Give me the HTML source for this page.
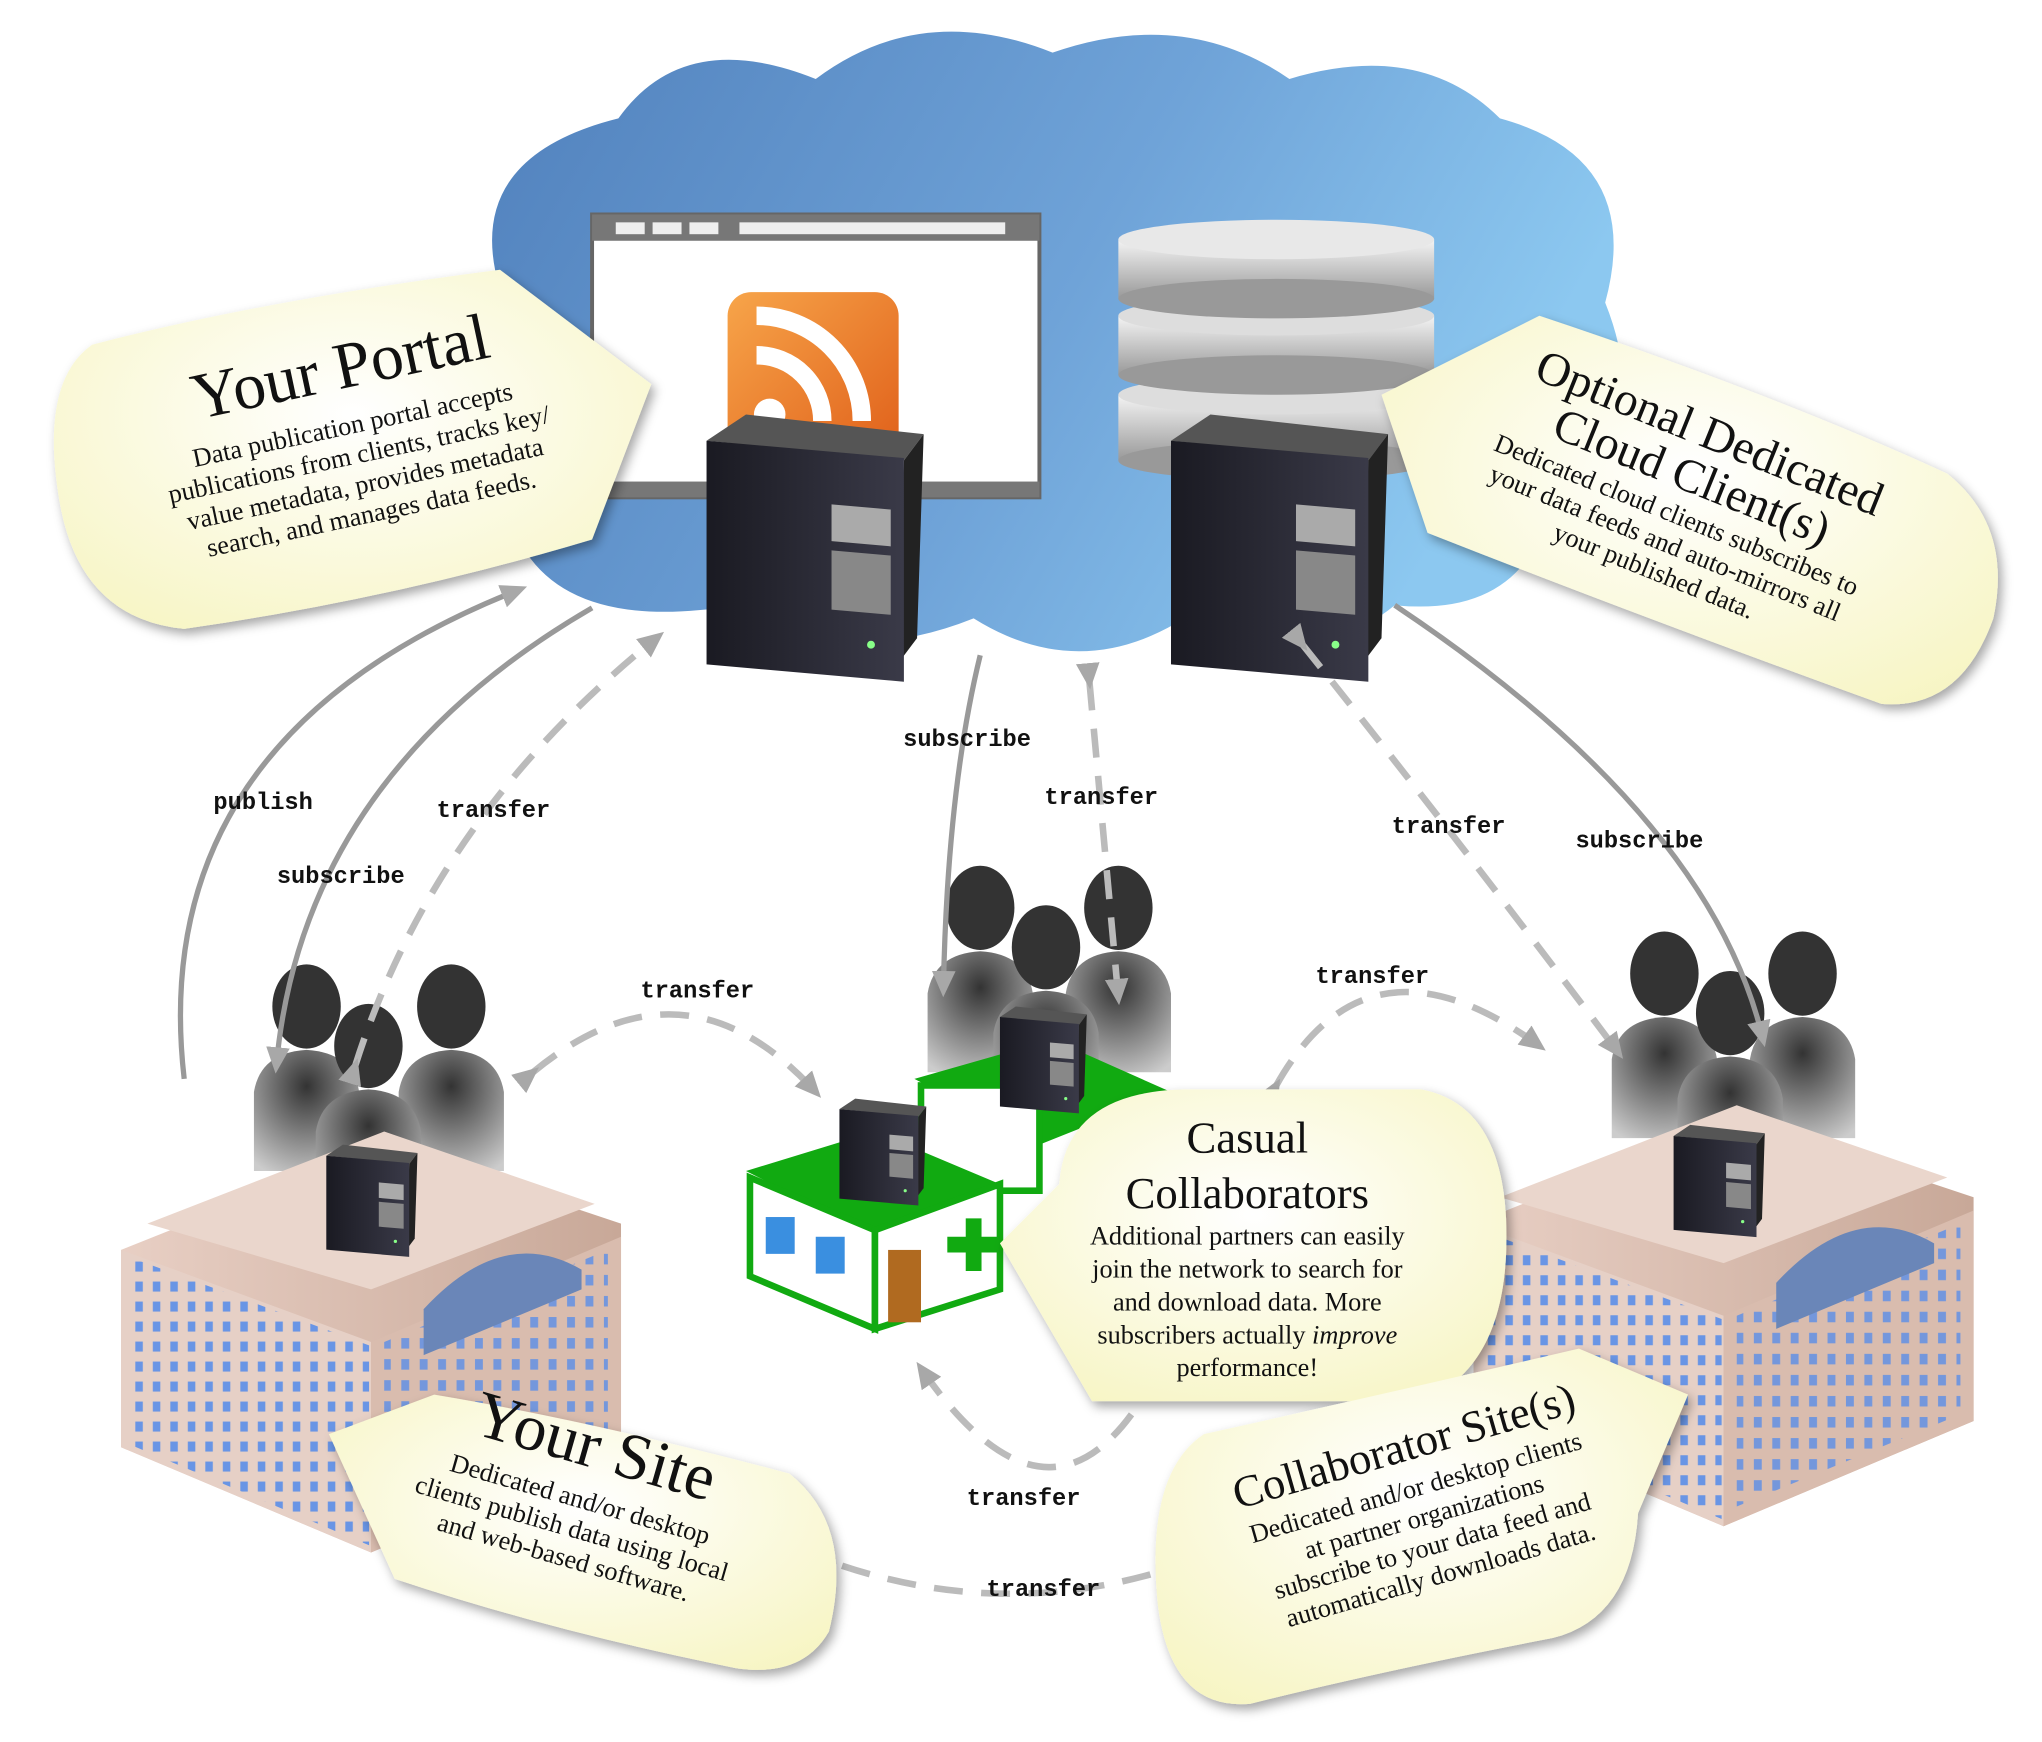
<!DOCTYPE html>
<html><head><meta charset="utf-8"><style>
html,body{margin:0;padding:0;background:#fff;}
svg{display:block;}
.lbl{font-family:"Liberation Mono",monospace;font-weight:bold;font-size:18px;fill:#111;}
.ser{font-family:"Liberation Serif",serif;fill:#111;}
</style></head><body>
<svg width="2042" height="1742" viewBox="0 0 1552 1324" preserveAspectRatio="none" xmlns="http://www.w3.org/2000/svg">
<defs>
<linearGradient id="cloud" x1="0" y1="0" x2="1" y2="0.3">
<stop offset="0" stop-color="#4f7fbb"/><stop offset="0.6" stop-color="#6fa3d8"/><stop offset="1" stop-color="#8cc8f0"/></linearGradient>
<radialGradient id="call" cx="0.5" cy="0.4" r="0.7"><stop offset="0" stop-color="#ffffff"/><stop offset="1" stop-color="#f7f5c4"/></radialGradient>
<linearGradient id="srv" x1="0" y1="0" x2="1" y2="0"><stop offset="0" stop-color="#1a1a22"/><stop offset="1" stop-color="#3a3a48"/></linearGradient>
<linearGradient id="disk" x1="0" y1="0" x2="0" y2="1"><stop offset="0" stop-color="#f4f4f4"/><stop offset="1" stop-color="#999"/></linearGradient>
<linearGradient id="rss" x1="0" y1="0" x2="1" y2="1"><stop offset="0" stop-color="#f7a54a"/><stop offset="1" stop-color="#e0601a"/></linearGradient>
<radialGradient id="ppl" cx="0.5" cy="0.3" r="0.8"><stop offset="0" stop-color="#333"/><stop offset="1" stop-color="#ccc"/></radialGradient>
<linearGradient id="bld" x1="0" y1="0" x2="1" y2="0"><stop offset="0" stop-color="#e8cfc4"/><stop offset="1" stop-color="#c8a898"/></linearGradient>
<pattern id="win" width="14" height="16" patternUnits="userSpaceOnUse"><rect x="3" y="3" width="6" height="8" fill="#5b8ee8"/></pattern>
<marker id="ah" markerWidth="22" markerHeight="22" refX="14" refY="11" orient="auto" markerUnits="userSpaceOnUse"><path d="M0,2 L20,11 L0,20 z" fill="#a8a8a8"/></marker>
<filter id="sh"><feDropShadow dx="3" dy="4" stdDeviation="4" flood-opacity="0.35"/></filter>
<g id="server">
<path d="M0,20 L30,0 L165,15 L150,35 z" fill="#555"/>
<path d="M150,35 L165,15 L160,170 L145,190 z" fill="#222"/>
<rect x="0" y="20" width="150" height="170" fill="url(#srv)" transform="skewY(5)"/>
<rect x="95" y="60" width="45" height="28" fill="#aaa" transform="skewY(5)"/>
<rect x="95" y="95" width="45" height="45" fill="#888" transform="skewY(5)"/>
<circle cx="125" cy="175" r="3" fill="#8f8"/>
</g>
<g id="person">
<ellipse cx="40" cy="35" rx="26" ry="32" fill="#333"/>
<path d="M0,160 L0,100 Q5,70 40,68 Q75,70 80,100 L80,160 z" fill="url(#ppl)"/>
</g>
<g id="bldg">
<path d="M0,80 L200,0 L380,60 L380,230 L190,310 L0,230 z" fill="url(#bld)"/>
<path d="M0,80 L190,150 L190,310 L0,230 z" fill="#e6d0c6"/>
<path d="M0,80 L190,150 L190,310 L0,230 z" fill="url(#win)" transform="translate(8,10) scale(0.95)" opacity="0.9"/>
<path d="M190,150 L380,70 L380,230 L190,310 z" fill="#d9bcae"/>
<path d="M200,150 L370,80 L370,225 L200,295 z" fill="url(#win)" opacity="0.8"/>
<path d="M230,125 Q290,60 350,95 L350,110 L230,160 z" fill="#6a86b8"/>
<path d="M20,60 L200,-10 L360,45 L190,110 z" fill="#ead6cc"/>
</g>
</defs>

<!-- Cloud -->
<path d="M360,360 Q320,290 380,220 Q350,120 470,90 Q520,20 620,60 Q700,0 800,40 Q900,5 980,60 Q1080,30 1140,90 Q1250,120 1220,230 Q1260,330 1180,380 Q1160,470 1060,460 Q1000,510 900,470 Q820,520 740,470 Q640,510 560,460 Q440,480 400,420 Q340,410 360,360 z" fill="url(#cloud)"/>

<!-- Browser window -->
<rect x="450" y="163" width="340" height="215" fill="#fff" stroke="#666" stroke-width="3"/>
<rect x="450" y="163" width="340" height="20" fill="#777"/>
<rect x="468" y="169" width="22" height="9" fill="#eee"/><rect x="496" y="169" width="22" height="9" fill="#eee"/><rect x="524" y="169" width="22" height="9" fill="#eee"/>
<rect x="562" y="169" width="202" height="9" fill="#eee"/>
<rect x="450" y="366" width="340" height="12" fill="#777"/>
<rect x="553" y="222" width="130" height="125" rx="18" fill="url(#rss)"/>
<circle cx="585" cy="315" r="12" fill="#fff"/>
<path d="M575,270 A50,50 0 0 1 625,320" stroke="#fff" stroke-width="14" fill="none"/>
<path d="M575,240 A80,80 0 0 1 655,320" stroke="#fff" stroke-width="14" fill="none"/>

<!-- DB -->
<g>
<rect x="850" y="300" width="240" height="50" fill="url(#disk)"/><ellipse cx="970" cy="350" rx="120" ry="15" fill="#999"/><ellipse cx="970" cy="300" rx="120" ry="15" fill="#ddd"/>
<rect x="850" y="240" width="240" height="45" fill="url(#disk)"/><ellipse cx="970" cy="285" rx="120" ry="15" fill="#999"/><ellipse cx="970" cy="240" rx="120" ry="15" fill="#ddd"/>
<rect x="850" y="182" width="240" height="45" fill="url(#disk)"/><ellipse cx="970" cy="227" rx="120" ry="15" fill="#999"/><ellipse cx="970" cy="182" rx="120" ry="15" fill="#e8e8e8"/>
</g>

<use href="#server" x="537" y="315"/>
<use href="#server" x="890" y="315"/>

<!-- people -->
<use href="#person" x="193" y="730"/><use href="#person" x="303" y="730"/><use href="#person" x="240" y="760"/>
<use href="#person" x="705" y="655"/><use href="#person" x="810" y="655"/><use href="#person" x="755" y="685"/>
<use href="#person" x="1225" y="705"/><use href="#person" x="1330" y="705"/><use href="#person" x="1275" y="735"/>

<!-- buildings -->
<use href="#bldg" x="92" y="870"/>
<use href="#bldg" x="1120" y="850"/>
<use href="#server" transform="translate(248,870) scale(0.42)"/>
<use href="#server" transform="translate(1272,855) scale(0.42)"/>

<!-- clinics -->
<path d="M695,820 L800,790 L890,830 L790,870 z" fill="#11aa11"/>
<rect x="700" y="825" width="90" height="80" fill="#fff" stroke="#11aa11" stroke-width="5"/>
<path d="M567,890 L665,860 L760,900 L665,940 z" fill="#11aa11"/>
<path d="M570,895 L665,935 L665,1010 L570,970 z" fill="#fff" stroke="#11aa11" stroke-width="5"/>
<path d="M665,935 L760,900 L760,980 L665,1010 z" fill="#fff" stroke="#11aa11" stroke-width="5"/>
<rect x="582" y="925" width="22" height="28" fill="#3a8fe0"/><rect x="620" y="940" width="22" height="28" fill="#3a8fe0"/>
<rect x="675" y="950" width="25" height="55" fill="#b06a20"/>
<path d="M720,940 h14 v-14 h12 v14 h14 v12 h-14 v14 h-12 v-14 h-14 z" fill="#11aa11"/>
<use href="#server" transform="translate(638,835) scale(0.4)"/>
<use href="#server" transform="translate(760,765) scale(0.4)"/>

<!-- Arrows -->
<g fill="none" stroke="#999" stroke-width="4">
<path d="M140,820 Q110,560 395,448" marker-end="url(#ah)"/>
<path d="M450,462 Q230,590 210,810" marker-end="url(#ah)"/>
<path d="M745,498 Q720,600 717,752" marker-end="url(#ah)"/>
<path d="M1060,460 Q1300,620 1340,790" marker-end="url(#ah)"/>
</g>
<g fill="none" stroke="#bbb" stroke-width="5" stroke-dasharray="22,14">
<path d="M270,810 Q330,620 500,484" marker-end="url(#ah)" marker-start="url(#ah)"/>
<path d="M828,518 L850,758" marker-end="url(#ah)" marker-start="url(#ah)"/>
<path d="M990,490 Q1110,640 1230,800" marker-end="url(#ah)" marker-start="url(#ah)"/>
<path d="M405,815 Q520,720 620,830" marker-end="url(#ah)" marker-start="url(#ah)"/>
<path d="M970,825 Q1040,700 1170,795" marker-end="url(#ah)" marker-start="url(#ah)"/>
<path d="M860,1075 Q790,1170 700,1040" marker-end="url(#ah)"/>
<path d="M640,1190 Q760,1230 880,1195"/>
</g>

<!-- labels -->
<g class="lbl" text-anchor="middle">
<text x="200" y="615">publish</text>
<text x="259" y="671">subscribe</text>
<text x="375" y="621">transfer</text>
<text x="735" y="567">subscribe</text>
<text x="837" y="611">transfer</text>
<text x="1101" y="633">transfer</text>
<text x="1246" y="644">subscribe</text>
<text x="530" y="758">transfer</text>
<text x="1043" y="747">transfer</text>
<text x="778" y="1144">transfer</text>
<text x="793" y="1213">transfer</text>
</g>

<!-- Callouts -->
<g filter="url(#sh)">
<path d="M70,262 Q200,228 380,205 L495,292 L450,410 Q300,455 140,478 Q60,470 45,380 Q30,290 70,262 z" fill="url(#call)"/>
<path d="M1050,300 L1170,240 Q1350,300 1480,360 Q1530,400 1515,470 Q1490,540 1430,535 Q1250,470 1085,405 z" fill="url(#call)"/>
<path d="M760,945 L805,900 Q810,830 900,828 L1080,828 Q1145,840 1145,940 Q1145,1040 1080,1065 L830,1065 z" fill="url(#call)"/>
<path d="M250,1090 L330,1060 Q450,1080 600,1120 Q650,1160 630,1240 Q610,1275 560,1268 Q420,1240 300,1200 z" fill="url(#call)"/>
<path d="M1283,1060 L1245,1150 Q1240,1230 1180,1245 Q1050,1270 950,1295 Q890,1300 880,1220 Q870,1120 915,1090 Q1050,1060 1200,1025 z" fill="url(#call)"/>
</g>

<g class="ser" text-anchor="middle">
<g transform="translate(262,295) rotate(-12)">
<text y="0" font-size="50">Your Portal</text>
<text y="35" font-size="20">Data publication portal accepts</text>
<text y="58" font-size="20">publications from clients, tracks key/</text>
<text y="81" font-size="20">value metadata, provides metadata</text>
<text y="104" font-size="20">search, and manages data feeds.</text>
</g>
<g transform="translate(1295,340) rotate(22)">
<text y="0" font-size="36">Optional Dedicated</text>
<text y="36" font-size="36">Cloud Client(s)</text>
<text y="62" font-size="20">Dedicated cloud clients subscribes to</text>
<text y="85" font-size="20">your data feeds and auto-mirrors all</text>
<text y="108" font-size="20">your published data.</text>
</g>
<g transform="translate(948,876)">
<text y="0" font-size="34">Casual</text>
<text y="42" font-size="34">Collaborators</text>
<text y="70" font-size="20">Additional partners can easily</text>
<text y="95" font-size="20">join the network to search for</text>
<text y="120" font-size="20">and download data. More</text>
<text y="145" font-size="20">subscribers actually <tspan font-style="italic">improve</tspan></text>
<text y="170" font-size="20">performance!</text>
</g>
<g transform="translate(448,1115) rotate(16)">
<text y="0" font-size="50">Your Site</text>
<text y="32" font-size="20">Dedicated and/or desktop</text>
<text y="55" font-size="20">clients publish data using local</text>
<text y="78" font-size="20">and web-based software.</text>
</g>
<g transform="translate(1070,1110) rotate(-16)">
<text y="0" font-size="34">Collaborator Site(s)</text>
<text y="28" font-size="20">Dedicated and/or desktop clients</text>
<text y="51" font-size="20">at partner organizations</text>
<text y="74" font-size="20">subscribe to your data feed and</text>
<text y="97" font-size="20">automatically downloads data.</text>
</g>
</g>
</svg>
</body></html>
